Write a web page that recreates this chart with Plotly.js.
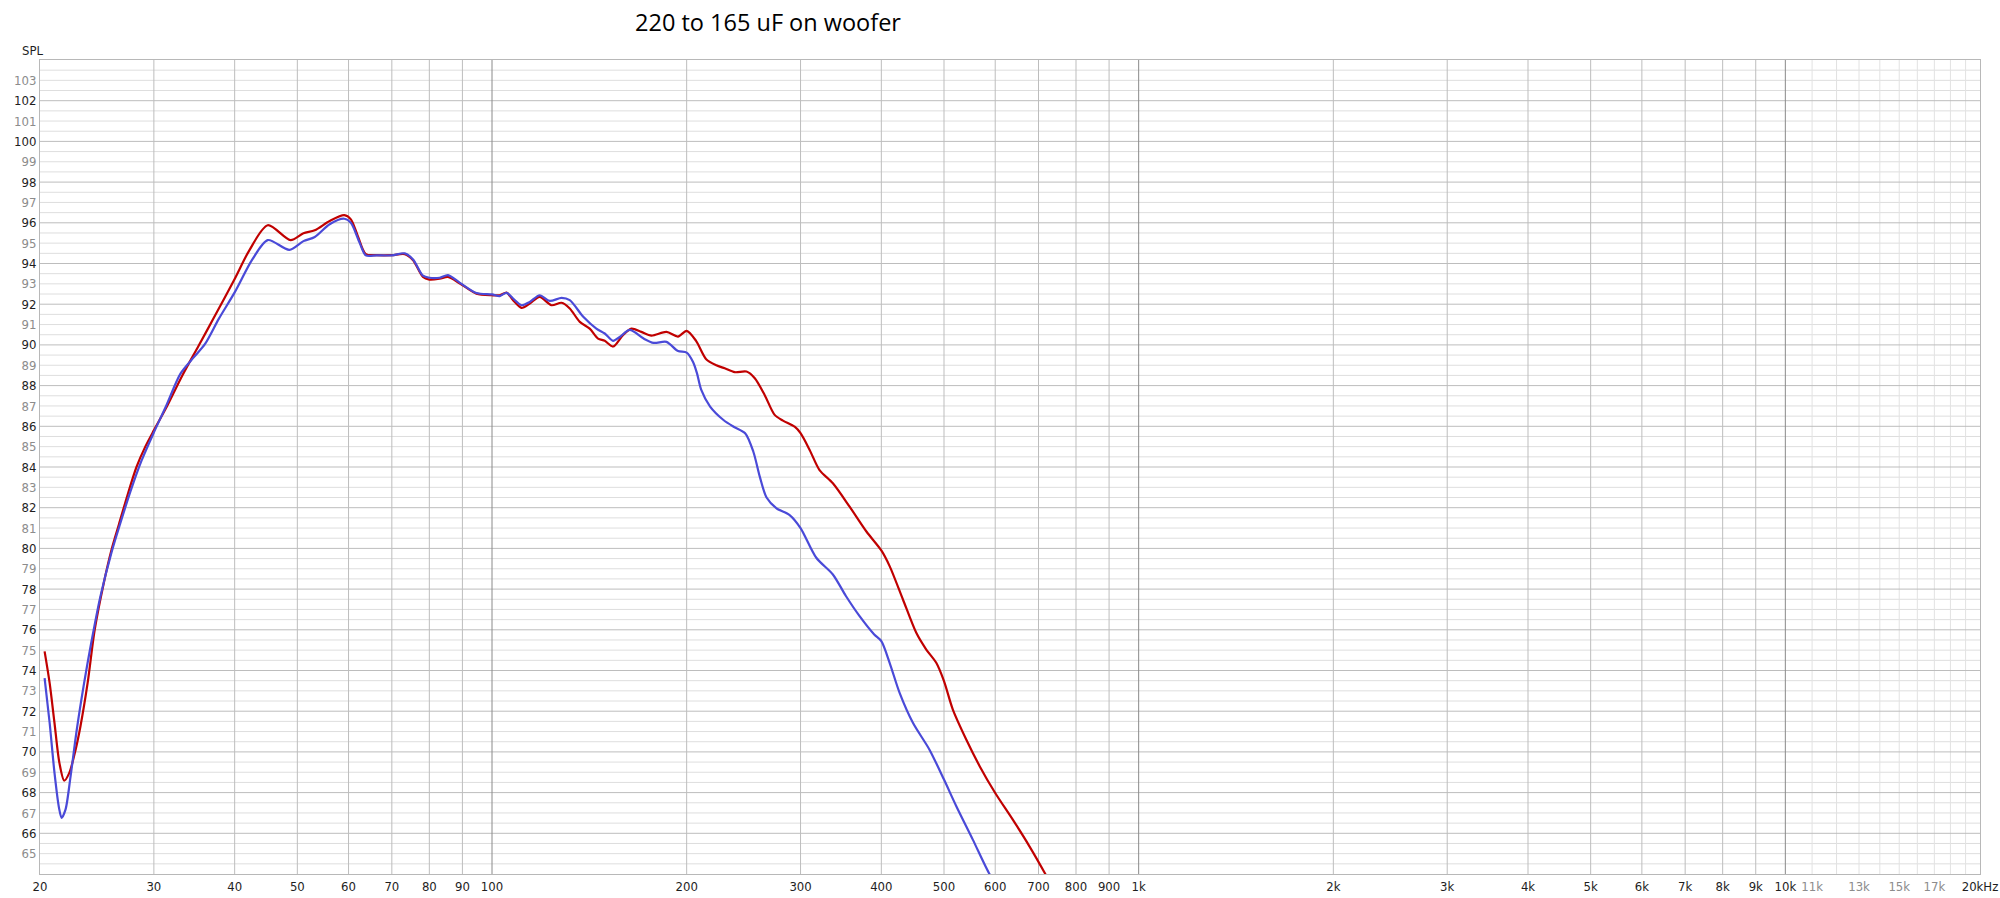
<!DOCTYPE html>
<html>
<head>
<meta charset="utf-8">
<script src="https://cdn.plot.ly/plotly-3.0.1.min.js"></script>
<style>html,body{margin:0;padding:0;background:#fff;}#chart{width:2000px;height:898px;}</style>
</head>
<body>
<div id="chart"></div>
<script>
// ---- data (frequency in Hz, SPL in dB) ----
const redFreq = [20.33,20.7,21.06,21.43,21.8,22.2,22.7,23.1,23.7,24.3,25.1,25.8,26.5,27.3,28.2,29.1,30,31.3,33.2,35.2,37.3,40,42.1,45.0,48.8,51.1,53.2,56.1,59.1,60.5,62,63.8,66.3,70,73.3,75.5,78.2,80,83,85.5,89.2,94.6,100,102.8,105.3,107.8,111.1,114.4,118.5,123.6,128.1,131.9,136.7,141.6,145.9,149.4,153.9,159.4,164.3,170.2,176.4,186.1,193.9,200,206.8,214.4,222.3,229,237.4,247.5,254.9,264,273.6,281.8,293.8,300,309.9,321,336.6,357.3,379.3,400,412,432,453,469.4,486.4,500,516,541.2,567.7,600,638.8,677.8,715.8,740];
const redSPL  = [74.94,73.38,71.42,69.46,68.59,68.97,70.1,71.26,73.4,76.0,78.3,79.93,81.2,82.6,84.0,85.0,85.8,86.87,88.5,89.97,91.44,93.24,94.62,95.88,95.15,95.49,95.63,96.09,96.38,96.17,95.36,94.46,94.41,94.41,94.46,94.16,93.34,93.21,93.25,93.34,93.02,92.52,92.44,92.44,92.57,92.2,91.82,92.03,92.36,91.95,92.07,91.79,91.13,90.8,90.31,90.2,89.92,90.48,90.8,90.64,90.46,90.64,90.41,90.69,90.2,89.3,89.0,88.85,88.66,88.69,88.36,87.54,86.56,86.28,85.98,85.66,84.84,83.85,83.2,82.05,80.83,79.9,79.13,77.49,75.85,75.03,74.38,73.48,72.08,70.61,69.3,67.98,66.67,65.36,64.05,63.2];

const blueFreq = [20.33,20.7,21.06,21.4,21.6,21.9,22.3,22.8,23.4,24.0,24.8,25.8,26.6,27.6,28.7,30,31.3,33.0,34.6,36.0,37.8,40,42.6,45.0,48.6,51.1,53.2,56.1,59.1,60.5,62.4,63.8,66.3,70,73.3,75.5,78.2,80,83,85.5,89.2,94.6,100,102.8,105.3,107.8,111.1,114.4,118.5,122.8,128.1,131.9,138.4,145.0,149.4,153.9,157.6,163.3,171.6,177.8,186.1,193.9,200,204.6,207.5,210.6,217.4,228,236.4,246.3,253.6,259.6,265.8,275.4,288.6,300,317.3,336.6,352.6,370.2,390,400,412,426.9,447.6,474.8,500,522.4,554,586.7,605];
const blueSPL  = [73.63,71.42,68.97,67.25,66.76,67.16,68.8,71.1,73.38,75.35,77.64,79.8,81.2,82.8,84.3,85.7,86.96,88.6,89.4,90.05,91.28,92.58,94.2,95.15,94.67,95.1,95.3,95.93,96.2,96.0,95.03,94.4,94.4,94.4,94.5,94.2,93.4,93.3,93.3,93.43,93.05,92.55,92.48,92.4,92.56,92.28,91.95,92.11,92.44,92.16,92.31,92.2,91.38,90.8,90.56,90.2,90.39,90.74,90.31,90.1,90.15,89.7,89.62,89.16,88.6,87.8,86.97,86.31,85.98,85.66,84.75,83.5,82.5,81.97,81.64,81.0,79.54,78.72,77.66,76.67,75.77,75.44,74.38,72.9,71.43,70.11,68.64,67.33,65.69,64.05,63.4];

// ---- axis ticks ----
const xTickVals = [20,30,40,50,60,70,80,90,100,200,300,400,500,600,700,800,900,1000,2000,3000,4000,5000,6000,7000,8000,9000,10000,11000,13000,15000,17000,20000];
const xTickText = ["20","30","40","50","60","70","80","90","100","200","300","400","500","600","700","800","900","1k","2k","3k","4k","5k","6k","7k","8k","9k","10k","11k","13k","15k","17k","20kHz"];
const xTickGrey = ["11k","13k","15k","17k"];
const yTickVals = [65,66,67,68,69,70,71,72,73,74,75,76,77,78,79,80,81,82,83,84,85,86,87,88,89,90,91,92,93,94,95,96,97,98,99,100,101,102,103];

// ---- grid values ----
const xGridMid = [30,40,50,60,70,80,90,200,300,400,500,600,700,800,900,2000,3000,4000,5000,6000,7000,8000,9000];
const xGridDark = [100,1000,10000];
const xGridLight = [11000,12000,13000,14000,15000,16000,17000,18000,19000];
const yGridMid = [66,68,70,72,74,76,78,80,82,84,86,88,90,92,94,96,98,100,102];
const yGridLight = [64.5,65,65.5,66.5,67,67.5,68.5,69,69.5,70.5,71,71.5,72.5,73,73.5,74.5,75,75.5,76.5,77,77.5,78.5,79,79.5,80.5,81,81.5,82.5,83,83.5,84.5,85,85.5,86.5,87,87.5,88.5,89,89.5,90.5,91,91.5,92.5,93,93.5,94.5,95,95.5,96.5,97,97.5,98.5,99,99.5,100.5,101,101.5,102.5,103,103.5];

const X_MIN = 20, X_MAX = 20000, Y_MIN = 64, Y_MAX = 104;

function vLines(vals, color) {
  const x = [], y = [];
  vals.forEach(v => { x.push(v, v, null); y.push(Y_MIN, Y_MAX, null); });
  return {x, y, mode:'lines', line:{color, width:1}, hoverinfo:'skip', showlegend:false, type:'scatter'};
}
function hLines(vals, color) {
  const x = [], y = [];
  vals.forEach(v => { x.push(X_MIN, X_MAX, null); y.push(v, v, null); });
  return {x, y, mode:'lines', line:{color, width:1}, hoverinfo:'skip', showlegend:false, type:'scatter'};
}

const traces = [
  hLines(yGridLight, '#dedede'),
  vLines(xGridLight, '#e2e2e2'),
  hLines(yGridMid, '#bdbdbd'),
  vLines(xGridMid, '#bdbdbd'),
  vLines(xGridDark, '#8a8a8a'),
  {x: redFreq, y: redSPL, type:'scatter', mode:'lines', line:{color:'#c00000', width:2.2, shape:'spline', smoothing:0.8}, hoverinfo:'skip', showlegend:false},
  {x: blueFreq, y: blueSPL, type:'scatter', mode:'lines', line:{color:'#4a4ad8', width:2.2, shape:'spline', smoothing:0.8}, hoverinfo:'skip', showlegend:false}
];

const tickFont = {family:'"Liberation Sans Narrow", "DejaVu Sans Condensed", "Liberation Sans", sans-serif', size:13, color:'#1e1e1e'};

const layout = {
  width: 2000, height: 898,
  margin: {l:40, r:20, t:60, b:24},
  paper_bgcolor:'#ffffff', plot_bgcolor:'#ffffff',
  showlegend:false,
  title: {text:'220 to 165 uF on woofer', x:768/2000, xref:'container', xanchor:'center', y:1-23/898, yref:'container', yanchor:'middle',
          font:{family:'"Open Sans", "Noto Sans", sans-serif', size:23.5, color:'#000'}},
  xaxis: {
    type:'log', range:[Math.log10(X_MIN), Math.log10(X_MAX)],
    tickvals: xTickVals,
    ticktext: xTickText.map(t => xTickGrey.includes(t) ? '<span style="color:#8c8c8c">'+t+'</span>' : t),
    showgrid:false, zeroline:false, ticks:'', tickfont: tickFont,
    showline:true, mirror:true, linecolor:'#b8b8b8', linewidth:1, fixedrange:true
  },
  yaxis: {
    range:[Y_MIN, Y_MAX],
    tickvals: yTickVals,
    ticktext: yTickVals.map(v => v % 2 === 0 ? String(v) : '<span style="color:#8c8c8c">'+v+'</span>'),
    showgrid:false, zeroline:false, ticks:'', tickfont: tickFont,
    showline:true, mirror:true, linecolor:'#b8b8b8', linewidth:1, fixedrange:true
  },
  annotations: [{text:'SPL', xref:'paper', yref:'paper', x:(20-40)/1940, y:(874-50)/814, xanchor:'left', yanchor:'middle', showarrow:false,
                 font:{family:tickFont.family, size:13, color:'#1e1e1e'}}]
};

Plotly.newPlot('chart', traces, layout, {staticPlot:true, displayModeBar:false});
</script>
</body>
</html>
